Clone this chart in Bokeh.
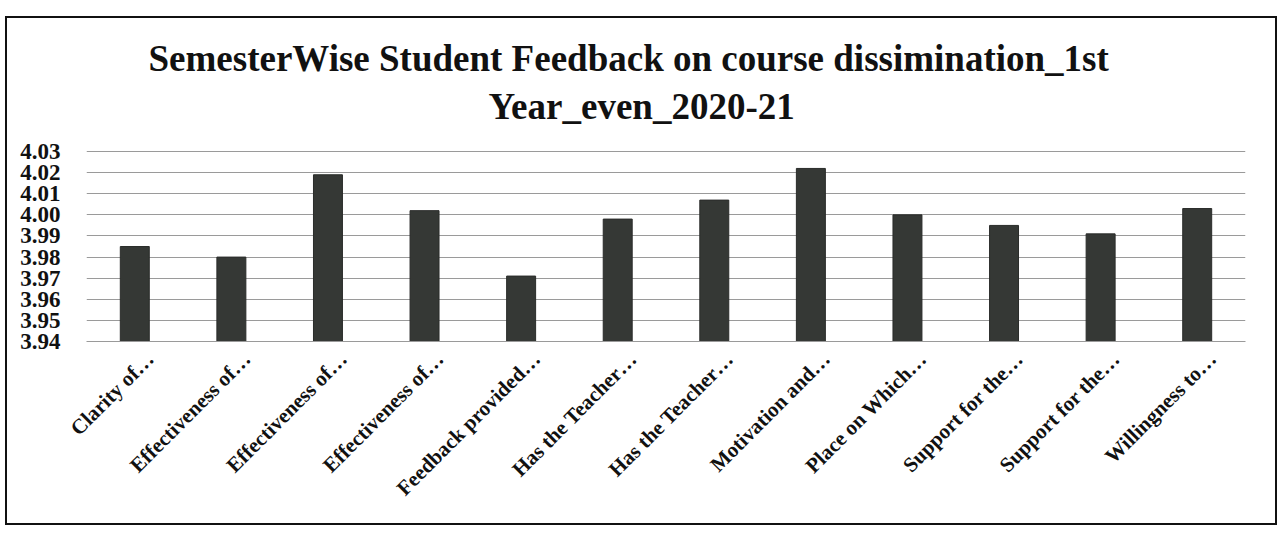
import math
from bokeh.plotting import figure
from bokeh.models import (FixedTicker, NumeralTickFormatter, Title, Range1d,
                          ColumnDataSource, CustomJSTickFormatter)
from bokeh.embed import file_html
from bokeh.resources import INLINE

labels = ["Clarity of…", "Effectiveness of…", "Effectiveness of…", "Effectiveness of…",
          "Feedback provided…", "Has the Teacher…", "Has the Teacher…", "Motivation and…",
          "Place on Which…", "Support for the…", "Support for the…", "Willingness to…"]
values = [3.985, 3.980, 4.019, 4.002, 3.971, 3.998, 4.007, 4.022, 4.000, 3.995, 3.991, 4.003]
y_ticks = [3.94, 3.95, 3.96, 3.97, 3.98, 3.99, 4.00, 4.01, 4.02, 4.03]
title_lines = ["SemesterWise Student Feedback on course dissimination_1st", "Year_even_2020-21"]

n = len(labels)
# category slots: bar i sits in the middle of slot [i, i+1]
slot_centres = [i + 0.5 for i in range(n)]
source = ColumnDataSource(dict(x=slot_centres, val=values, base=[y_ticks[0]] * n))

SERIF = "Liberation Serif"

p = figure(x_range=Range1d(0, n), y_range=Range1d(3.94, 4.0305), width=1272, height=509,
           output_backend="svg", toolbar_location=None,
           min_border_left=79, min_border_right=34, min_border_top=132, min_border_bottom=186)
p.title = None
p.add_layout(Title(text=" ", text_font_size="14px", standoff=0), "above")
p.add_layout(Title(text=title_lines[1], align="left", text_font=SERIF, text_font_size="37px",
                   text_font_style="bold", text_color="#111111", standoff=11, offset=402), "above")
p.add_layout(Title(text=title_lines[0], align="left", text_font=SERIF, text_font_size="37px",
                   text_font_style="bold", text_color="#111111", standoff=0, offset=62), "above")

p.vbar(x="x", top="val", bottom="base", width=0.3, source=source,
       fill_color="#353835", line_color="#2a2c2a")

p.outline_line_color = None
p.background_fill_color = "white"
p.border_fill_color = "white"
p.styles = {"border": "2px solid #111111", "margin-left": "5px", "margin-top": "16px"}

p.xgrid.grid_line_color = None
p.ygrid.grid_line_color = "#9a9a9a"
p.ygrid.grid_line_width = 1
p.yaxis.ticker = FixedTicker(ticks=y_ticks)
p.yaxis.formatter = NumeralTickFormatter(format="0.00")
p.yaxis.axis_line_color = None
p.yaxis.major_tick_line_color = None
p.yaxis.minor_tick_line_color = None
p.yaxis.major_label_text_font = SERIF
p.yaxis.major_label_text_font_size = "23px"
p.yaxis.major_label_text_font_style = "bold"
p.yaxis.major_label_text_color = "#111111"
p.yaxis.major_label_standoff = 20

# category labels, nudged slightly right of each bar as in the original
p.xaxis.ticker = FixedTicker(ticks=[c + 0.16 for c in slot_centres])
p.xaxis.formatter = CustomJSTickFormatter(args=dict(labs=labels),
                                          code="return labs[Math.floor(tick)];")
p.xaxis.axis_line_color = "#9a9a9a"
p.xaxis.major_tick_line_color = None
p.xaxis.minor_tick_line_color = None
p.xaxis.major_label_orientation = math.pi / 4
p.xaxis.major_label_text_font = SERIF
p.xaxis.major_label_text_font_size = "21px"
p.xaxis.major_label_text_font_style = "bold"
p.xaxis.major_label_text_color = "#111111"
p.xaxis.major_label_standoff = 8

open("out.html", "w").write(file_html(p, INLINE))
